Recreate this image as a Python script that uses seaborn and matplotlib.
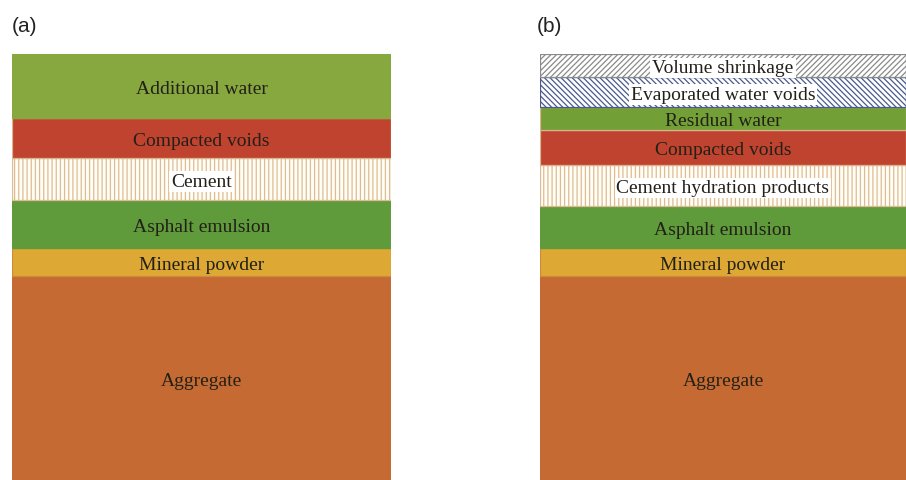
import numpy as np
import matplotlib
matplotlib.use("Agg")
import matplotlib.pyplot as plt
import seaborn as sns

sns.set_theme(style="white")
plt.rcParams["hatch.linewidth"] = 0.9

# layer thickness, listed from bottom to top
layers_a = ["Aggregate", "Mineral powder", "Asphalt emulsion", "Cement",
            "Compacted voids", "Additional water"]
thick_a = [204, 28, 48, 42, 40, 64]

layers_b = ["Aggregate", "Mineral powder", "Asphalt emulsion",
            "Cement hydration products", "Compacted voids", "Residual water",
            "Evaporated water voids", "Volume shrinkage"]
thick_b = [204, 28, 42, 41, 35, 23, 30, 23]

# fill, edge, hatch, white label box
style = {
    "Aggregate": ("#C56A32", "#C56A32", None, False),
    "Mineral powder": ("#DDA833", "#D08A40", None, False),
    "Asphalt emulsion": ("#5F9A3B", "#5F9A3B", None, False),
    "Cement": ("#FFFDF4", "#DDBB96", "||||", True),
    "Cement hydration products": ("#FFFDF4", "#DDBB96", "||||", True),
    "Compacted voids": ("#C0432F", "#D9B48F", None, False),
    "Additional water": ("#86A83F", "#86A83F", None, False),
    "Residual water": ("#72A036", "#D9B48F", None, False),
    "Evaporated water voids": ("white", "#4A5A8E", "\\\\\\\\\\\\", True),
    "Volume shrinkage": ("white", "#8A8A8A", "//////", True),
}

fig = plt.figure(figsize=(9.06, 4.81), dpi=100)
ax_a = fig.add_axes([12 / 906, 0, 379 / 906, 426 / 481])
ax_b = fig.add_axes([540 / 906, 0, 366 / 906, 426 / 481])


def draw(ax, layers, thick):
    bottoms = np.concatenate([[0], np.cumsum(thick)[:-1]])
    for name, h, b in zip(layers, thick, bottoms):
        fc, ec, hatch, box = style[name]
        ax.bar(0.5, h, bottom=b, width=1.0, color=fc, edgecolor=ec,
               hatch=hatch, linewidth=0.9)
        kw = dict(ha="center", va="center", family="Liberation Serif",
                  fontsize=14, color="#222018")
        if box:
            kw["bbox"] = dict(boxstyle="square,pad=0.1", fc="white", ec="none")
        # labels sit a touch below the middle of each layer
        ax.text(0.5, b + h / 2 - 2.5, name, **kw)
    ax.set_xlim(0, 1)
    ax.set_ylim(0, sum(thick))
    ax.axis("off")


draw(ax_a, layers_a, thick_a)
draw(ax_b, layers_b, thick_b)

fig.text(12 / 906, 1 - 26 / 481, "(a)", fontsize=15, family="Liberation Sans",
         va="center", ha="left", color="#222222")
fig.text(537 / 906, 1 - 26 / 481, "(b)", fontsize=15, family="Liberation Sans",
         va="center", ha="left", color="#222222")

fig.savefig("out.png", dpi=100)
